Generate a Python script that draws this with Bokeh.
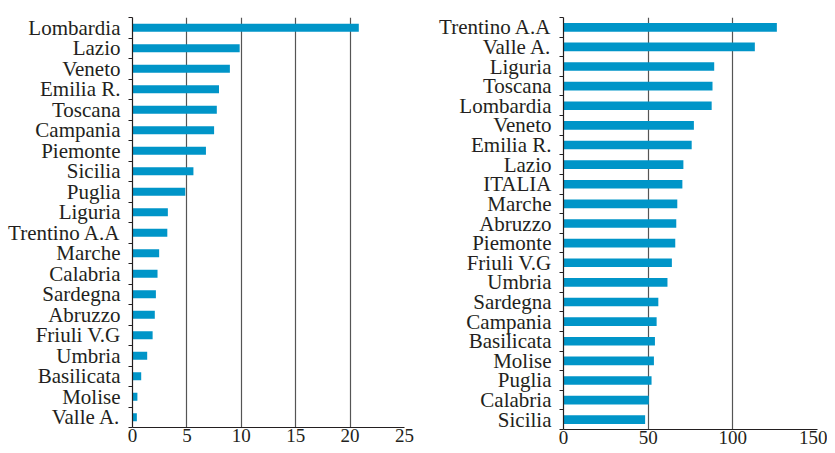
from bokeh.plotting import figure
from bokeh.layouts import row
from bokeh.models import Range1d, FixedTicker
from bokeh.embed import file_html
from bokeh.resources import INLINE

left_regions = ["Lombardia", "Lazio", "Veneto", "Emilia R.", "Toscana", "Campania",
                "Piemonte", "Sicilia", "Puglia", "Liguria", "Trentino A.A", "Marche",
                "Calabria", "Sardegna", "Abruzzo", "Friuli V.G", "Umbria", "Basilicata",
                "Molise", "Valle A."]
left_values = [20.8, 9.85, 8.95, 7.95, 7.75, 7.5, 6.75, 5.6, 4.85, 3.25, 3.2, 2.45,
               2.3, 2.15, 2.05, 1.85, 1.35, 0.8, 0.45, 0.4]
left_ticks = [0, 5, 10, 15, 20, 25]

right_regions = ["Trentino A.A", "Valle A.", "Liguria", "Toscana", "Lombardia", "Veneto",
                 "Emilia R.", "Lazio", "ITALIA", "Marche", "Abruzzo", "Piemonte",
                 "Friuli V.G", "Umbria", "Sardegna", "Campania", "Basilicata", "Molise",
                 "Puglia", "Calabria", "Sicilia"]
right_values = [126.0, 113.0, 89.0, 88.0, 87.5, 77.0, 75.7, 70.8, 70.2, 67.2, 66.6, 66.0,
                64.0, 61.4, 56.0, 55.0, 54.0, 53.4, 52.0, 50.4, 48.2]
right_ticks = [0, 50, 100, 150]

FONT = "Liberation Serif"
BAR = "#0095c8"
TXT = "#231f20"


def make(regions, values, ticks, xmax, fw, fh, bl, br, bar_h):
    n = len(regions)
    centers = [n - 1 - i + 0.5 for i in range(n)]
    p = figure(output_backend="svg", toolbar_location=None,
               frame_width=fw, frame_height=fh,
               x_range=Range1d(0, xmax), y_range=Range1d(0, n),
               min_border_left=bl, min_border_right=br,
               min_border_top=17, min_border_bottom=0)
    p.hbar(y=centers, right=values, left=0, height=bar_h, color=BAR, line_color=None)
    p.outline_line_color = None
    p.background_fill_color = "white"
    p.border_fill_color = "white"
    p.ygrid.grid_line_color = None
    p.xgrid.ticker = FixedTicker(ticks=ticks)
    p.xgrid.grid_line_color = "#555555"
    p.xgrid.grid_line_width = 1.2

    xa = p.xaxis[0]
    xa.ticker = FixedTicker(ticks=ticks)
    xa.major_tick_out = 0
    xa.major_tick_in = 0
    xa.minor_tick_out = 0
    xa.axis_line_color = TXT
    xa.axis_line_width = 1.2
    xa.major_label_text_font = FONT
    xa.major_label_text_font_size = "19px"
    xa.major_label_text_color = TXT
    xa.major_label_standoff = 1

    ya = p.yaxis[0]
    ya.ticker = FixedTicker(ticks=centers, minor_ticks=list(range(0, n + 1)))
    ya.major_tick_out = 0
    ya.major_tick_in = 0
    ya.minor_tick_out = 4
    ya.minor_tick_in = 0
    ya.minor_tick_line_color = TXT
    ya.axis_line_color = TXT
    ya.axis_line_width = 1.2
    ya.major_label_overrides = {c: r for c, r in zip(centers, regions)}
    ya.major_label_text_font = FONT
    ya.major_label_text_font_size = "21px"
    ya.major_label_text_color = TXT
    ya.major_label_standoff = 8
    return p


p1 = make(left_regions, left_values, left_ticks, 25, 272, 410, 132, 10, 0.38)
p2 = make(right_regions, right_values, right_ticks, 150, 254, 412, 149, 10, 0.44)

layout = row(p1, p2)
open("out.html", "w").write(file_html(layout, INLINE))
